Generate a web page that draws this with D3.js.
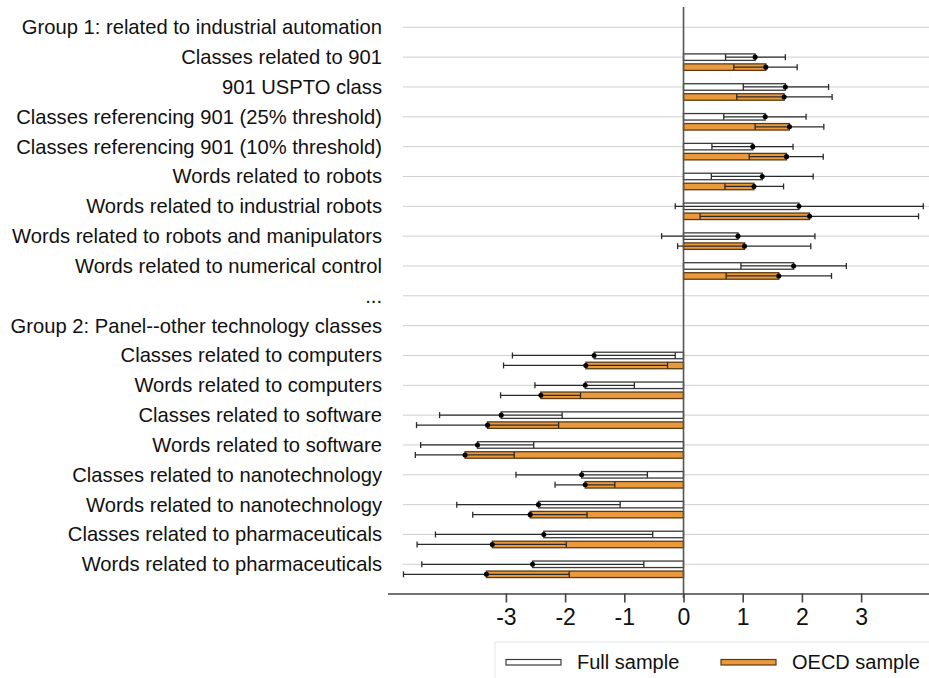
<!DOCTYPE html>
<html>
<head>
<meta charset="utf-8">
<script src="https://cdn.jsdelivr.net/npm/d3@7"></script>
<style>
  html, body { margin: 0; padding: 0; background: #fff; }
  svg { display: block; font-family: "Liberation Sans", Arial, Helvetica, sans-serif; }
</style>
</head>
<body>
<svg id="chart" width="929" height="678"></svg>
<script>
// ---- Data ----
const rowLabels = [
  "Group 1: related to industrial automation",
  "Classes related to 901",
  "901 USPTO class",
  "Classes referencing 901 (25% threshold)",
  "Classes referencing 901 (10% threshold)",
  "Words related to robots",
  "Words related to industrial robots",
  "Words related to robots and manipulators",
  "Words related to numerical control",
  "...",
  "Group 2: Panel--other technology classes",
  "Classes related to computers",
  "Words related to computers",
  "Classes related to software",
  "Words related to software",
  "Classes related to nanotechnology",
  "Words related to nanotechnology",
  "Classes related to pharmaceuticals",
  "Words related to pharmaceuticals"
];
const itemLabels = rowLabels.filter(d => !d.startsWith("Group") && d !== "...");

const fullEst = [1.21, 1.72, 1.38, 1.17, 1.33, 1.95, 0.92, 1.86, -1.51, -1.66, -3.08, -3.48, -1.72, -2.45, -2.36, -2.55];
const fullLo  = [0.71, 1.01, 0.68, 0.48, 0.47, -0.14, -0.37, 0.97, -2.89, -2.51, -4.12, -4.44, -2.83, -3.83, -4.19, -4.42];
const fullHi  = [1.72, 2.45, 2.07, 1.85, 2.19, 4.05, 2.22, 2.75, -0.14, -0.83, -2.05, -2.53, -0.61, -1.07, -0.52, -0.67];

const oecdEst = [1.39, 1.70, 1.79, 1.74, 1.19, 2.13, 1.03, 1.61, -1.65, -2.41, -3.31, -3.69, -1.66, -2.59, -3.23, -3.33];
const oecdLo  = [0.85, 0.90, 1.21, 1.11, 0.70, 0.28, -0.10, 0.72, -3.04, -3.09, -4.51, -4.53, -2.17, -3.56, -4.50, -4.73];
const oecdHi  = [1.92, 2.51, 2.37, 2.36, 1.69, 3.97, 2.15, 2.50, -0.27, -1.74, -2.11, -2.86, -1.16, -1.63, -1.98, -1.93];

const xTicks = [-3, -2, -1, 0, 1, 2, 3];
const seriesNames = ["Full sample", "OECD sample"];
const seriesColors = ["#ffffff", "#EA9A3C"];
const seriesStrokes = ["#3a3a3a", "#5a3a12"];

// ---- Layout ----
const svg = d3.select("#chart");
const x = d3.scaleLinear().domain([-5, 4.16]).range([387.5, 929.8]);
const y = d3.scalePoint().domain(rowLabels).range([27.3, 564.3]);
const barH = 6.5;
const offsets = [0, 10];

const series = [
  { name: seriesNames[0], est: fullEst, lo: fullLo, hi: fullHi },
  { name: seriesNames[1], est: oecdEst, lo: oecdLo, hi: oecdHi }
];

// gridlines
svg.append("g").selectAll("line").data(rowLabels).join("line")
  .attr("x1", 403).attr("x2", 929)
  .attr("y1", d => y(d)).attr("y2", d => y(d))
  .attr("stroke", "#cfcfcf").attr("stroke-width", 1);

// row labels
svg.append("g").selectAll("text").data(rowLabels).join("text")
  .attr("x", 382).attr("y", d => y(d))
  .attr("text-anchor", "end").attr("dominant-baseline", "central")
  .attr("font-size", 20.2).attr("fill", "#111")
  .text(d => d);

// bars + error bars
series.forEach((s, si) => {
  const g = svg.append("g");
  const cy = d => y(d) + offsets[si];
  g.selectAll("rect").data(itemLabels).join("rect")
    .attr("x", (d, i) => Math.min(x(0), x(s.est[i])))
    .attr("width", (d, i) => Math.abs(x(s.est[i]) - x(0)))
    .attr("y", d => cy(d) - barH / 2)
    .attr("height", barH)
    .attr("fill", seriesColors[si])
    .attr("stroke", seriesStrokes[si]).attr("stroke-width", 1.3);
  g.selectAll("line.ci").data(itemLabels).join("line").attr("class", "ci")
    .attr("x1", (d, i) => x(s.lo[i])).attr("x2", (d, i) => x(s.hi[i]))
    .attr("y1", cy).attr("y2", cy)
    .attr("stroke", "#2a2a2a").attr("stroke-width", 1.3);
  g.selectAll("line.capl").data(itemLabels).join("line").attr("class", "capl")
    .attr("x1", (d, i) => x(s.lo[i])).attr("x2", (d, i) => x(s.lo[i]))
    .attr("y1", d => cy(d) - 3).attr("y2", d => cy(d) + 3)
    .attr("stroke", "#2a2a2a").attr("stroke-width", 1.3);
  g.selectAll("line.caph").data(itemLabels).join("line").attr("class", "caph")
    .attr("x1", (d, i) => x(s.hi[i])).attr("x2", (d, i) => x(s.hi[i]))
    .attr("y1", d => cy(d) - 3).attr("y2", d => cy(d) + 3)
    .attr("stroke", "#2a2a2a").attr("stroke-width", 1.3);
  g.selectAll("path.pt").data(itemLabels).join("path").attr("class", "pt")
    .attr("d", d3.symbol().type(d3.symbolCircle).size(20))
    .attr("transform", (d, i) => `translate(${x(s.est[i])},${cy(d)})`)
    .attr("fill", "#000");
});

// vertical zero line
svg.append("line")
  .attr("x1", x(0)).attr("x2", x(0)).attr("y1", 7).attr("y2", 598)
  .attr("stroke", "#555").attr("stroke-width", 1.6);

// x axis
const xAxis = d3.axisBottom(x).tickValues(xTicks).tickSize(9).tickSizeOuter(0)
  .tickPadding(6).tickFormat(d => String(d));
const ax = svg.append("g").attr("transform", "translate(0,593.5)").call(xAxis);
ax.select(".domain").attr("stroke", "#444").attr("stroke-width", 1.6);
ax.selectAll(".tick line").attr("stroke", "#444").attr("stroke-width", 1.6);
ax.selectAll(".tick text").attr("font-size", 23).attr("fill", "#111")
  .attr("font-family", "Liberation Sans, Arial, sans-serif");

// legend
const lg = svg.append("g");
lg.append("rect").attr("x", 495).attr("y", 642).attr("width", 440).attr("height", 50)
  .attr("fill", "#fff").attr("stroke", "#e2eaea").attr("stroke-width", 1);
const legendX = [506, 721];
seriesNames.forEach((n, i) => {
  lg.append("rect").attr("x", legendX[i]).attr("y", 659.5).attr("width", 55).attr("height", 5.5)
    .attr("fill", seriesColors[i]).attr("stroke", seriesStrokes[i]).attr("stroke-width", 1.2);
  lg.append("text").attr("x", legendX[i] + 71).attr("y", 662)
    .attr("dominant-baseline", "central").attr("font-size", 20).attr("fill", "#111")
    .text(n);
});
</script>
</body>
</html>
